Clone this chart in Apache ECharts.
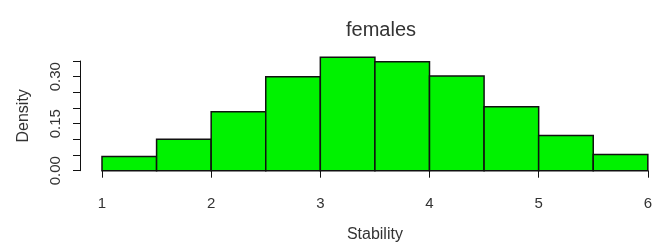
<!DOCTYPE html>
<html>
<head>
<meta charset="utf-8">
<script src="https://cdn.jsdelivr.net/npm/echarts@6/dist/echarts.min.js"></script>
<style>
html,body{margin:0;padding:0;background:#fff;}
#chart{width:655px;height:244px;}
</style>
</head>
<body>
<div id="chart"></div>
<script>
const titleText = "females";
const xName = "Stability";
const yName = "Density";
const binStarts = [1, 1.5, 2, 2.5, 3, 3.5, 4, 4.5, 5, 5.5];
const binEnds   = [1.5, 2, 2.5, 3, 3.5, 4, 4.5, 5, 5.5, 6];
const densities = [0.045, 0.100, 0.188, 0.300, 0.362, 0.348, 0.302, 0.204, 0.112, 0.052];
const yTickLabels = ["0.00", "0.15", "0.30"];

const data = binStarts.map((s, i) => [s, binEnds[i], densities[i]]);
const chart = echarts.init(document.getElementById('chart'), null, {renderer: 'canvas'});
const fontFam = 'Liberation Sans, Arial, Helvetica, sans-serif';
const txt = '#333';
chart.setOption({
  animation: false,
  title: {
    text: titleText, left: 376, top: 15, textAlign: 'center',
    textStyle: {fontFamily: fontFam, fontSize: 20, fontWeight: 'normal', color: txt}
  },
  grid: {left: 102, right: 7, top: 61, bottom: 73.3, containLabel: false},
  xAxis: {
    type: 'value', min: 1, max: 6, interval: 1, offset: 4.3,
    name: xName, nameLocation: 'middle', nameGap: 52,
    nameTextStyle: {fontFamily: fontFam, fontSize: 16, color: txt},
    axisLine: {show: true, lineStyle: {color: '#111', width: 1}},
    axisTick: {show: true, length: 7, lineStyle: {color: '#111'}},
    axisLabel: {fontFamily: fontFam, fontSize: 15, color: txt, margin: 21},
    splitLine: {show: false}
  },
  yAxis: {
    type: 'value', min: 0, max: 0.35, interval: 0.05, offset: 22,
    name: yName, nameLocation: 'middle', nameGap: 48, nameRotate: 90,
    nameTextStyle: {fontFamily: fontFam, fontSize: 16, color: txt},
    axisLine: {show: true, lineStyle: {color: '#111', width: 1}},
    axisTick: {show: true, length: 7, lineStyle: {color: '#111'}},
    axisLabel: {
      fontFamily: fontFam, fontSize: 15, color: txt, margin: 17, rotate: 90,
      formatter: function (v) {
        const s = v.toFixed(2);
        return yTickLabels.indexOf(s) >= 0 ? s : '';
      }
    },
    splitLine: {show: false}
  },
  series: [{
    type: 'custom',
    data: data,
    encode: {x: [0, 1], y: 2},
    renderItem: function (params, api) {
      const p0 = api.coord([api.value(0), 0]);
      const p1 = api.coord([api.value(1), api.value(2)]);
      return {
        type: 'rect',
        shape: {x: p0[0], y: p1[1], width: p1[0] - p0[0], height: p0[1] - p1[1]},
        style: {fill: '#00f200', stroke: '#111', lineWidth: 1.5}
      };
    }
  }]
});
</script>
</body>
</html>
